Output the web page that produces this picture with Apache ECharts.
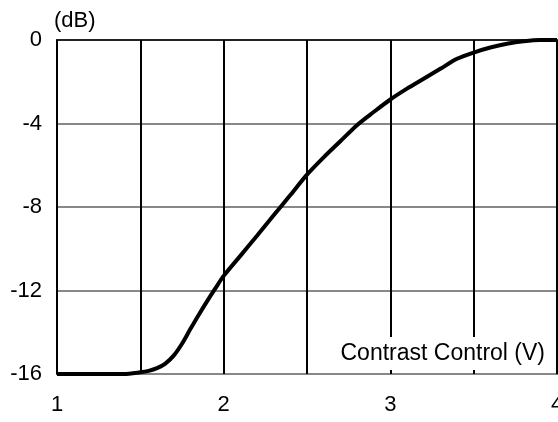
<!DOCTYPE html>
<html>
<head>
<meta charset="utf-8">
<script src="https://cdn.jsdelivr.net/npm/echarts@6/dist/echarts.min.js"></script>
<style>
  html, body { margin: 0; padding: 0; background: #fff; }
  #main { width: 558px; height: 422px; }
</style>
</head>
<body>
<div id="main"></div>
<script>
var app = echarts.init(document.getElementById('main'));

// contrast control voltage (V)
var volts = [1.0, 1.2, 1.4, 1.5, 1.55, 1.6, 1.65, 1.7, 1.75, 1.8, 1.85, 1.9, 1.95,
             2.0, 2.1, 2.2, 2.3, 2.4, 2.5, 2.6, 2.7, 2.8, 2.9, 3.0, 3.1, 3.2,
             3.3, 3.4, 3.5, 3.6, 3.7, 3.8, 3.9, 4.0];
// relative level (dB)
var level = [-16, -16, -16, -15.92, -15.85, -15.72, -15.5, -15.12, -14.55, -13.85, -13.17, -12.52, -11.9,
             -11.3, -10.34, -9.38, -8.4, -7.43, -6.45, -5.62, -4.85, -4.08, -3.45, -2.85, -2.33, -1.86,
             -1.38, -0.9, -0.6, -0.36, -0.18, -0.06, 0, 0];
var xTickLabels = ['1', '2', '3', '4'];

var font = 'Liberation Sans, Arial, sans-serif';

var points = [];
volts.forEach(function(v, i) {
    points.push([v, level[i]]);
});

option = {
    animation: false,
    backgroundColor: '#fff',
    grid: {
        left: 57,
        right: 1,
        top: 40,
        bottom: 48,
        outerBoundsMode: 'none',
        containLabel: false,
        show: true,
        borderColor: '#000',
        borderWidth: 1.5
    },
    xAxis: {
        type: 'value',
        min: 1,
        max: 4,
        interval: 0.5,
        axisLine: { show: true, lineStyle: { color: '#000', width: 1.5 } },
        axisTick: { show: false },
        axisLabel: {
            color: '#000',
            fontFamily: font,
            fontSize: 22,
            margin: 20,
            formatter: function(v) {
                var s = String(v);
                return xTickLabels.indexOf(s) >= 0 ? s : '';
            }
        },
        splitLine: { show: true, lineStyle: { color: '#000', width: 2 } }
    },
    yAxis: {
        type: 'value',
        min: -16,
        max: 0,
        interval: 4,
        name: '(dB)',
        nameLocation: 'end',
        nameGap: 8,
        nameTextStyle: {
            color: '#000',
            fontFamily: font,
            fontSize: 22,
            align: 'left',
            padding: [0, 0, 0, -3]
        },
        axisLine: { show: true, lineStyle: { color: '#000', width: 1.5 } },
        axisTick: { show: false },
        axisLabel: { color: '#000', fontFamily: font, fontSize: 22, margin: 15 },
        splitLine: { show: true, lineStyle: { color: '#888', width: 2 } }
    },
    graphic: [
        {
            type: 'text',
            right: 7,
            top: 337,
            z: 100,
            style: {
                text: 'Contrast Control (V)',
                fill: '#000',
                font: '23px ' + font,
                backgroundColor: '#fff',
                padding: [5, 6, 5, 6]
            }
        }
    ],
    series: [
        {
            name: 'level',
            type: 'line',
            data: points,
            smooth: 0.3,
            showSymbol: false,
            lineStyle: { color: '#000', width: 4 },
            z: 5
        }
    ]
};

app.setOption(option);
</script>
</body>
</html>
